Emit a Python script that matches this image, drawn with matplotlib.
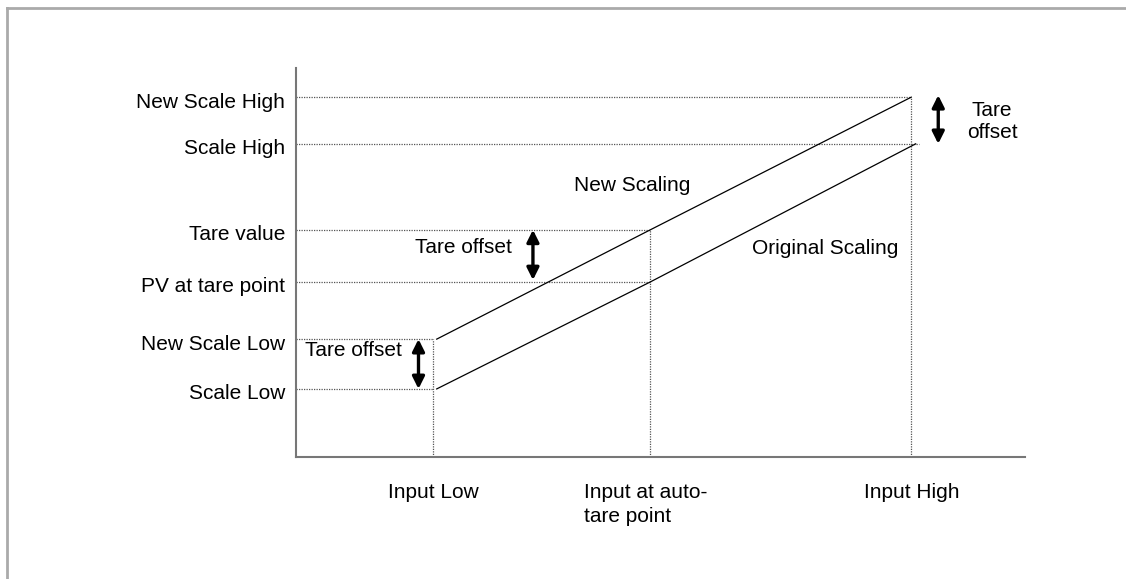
import matplotlib
matplotlib.use('Agg')
import matplotlib.pyplot as plt
from matplotlib.lines import Line2D

plt.rcParams['font.family'] = ['Liberation Sans', 'DejaVu Sans']

# values (axes run 0..10 on both sides)
x_names = ['Input Low', 'Input at auto-\ntare point', 'Input High']
x_pos = [1.88, 4.86, 8.44]

y_names = ['Scale Low', 'New Scale Low', 'PV at tare point', 'Tare value',
           'Scale High', 'New Scale High']
y_pos = [1.75, 3.03, 4.50, 5.84, 8.05, 9.25]

orig_x = [1.93, 4.86, 8.50]
orig_y = [1.75, 4.50, 8.05]
new_x = [1.93, 4.86, 8.44]
new_y = [3.03, 5.84, 9.25]

# where each horizontal guide ends on the x side
y_end = [1.88, 1.88, 4.86, 4.86, 8.55, 8.44]

fig = plt.figure(figsize=(11.26, 5.79), dpi=100)
ax = fig.add_axes([0.2629, 0.2107, 0.6474, 0.6719])
ax.set_xlim(0, 10)
ax.set_ylim(0, 10)

guide = dict(color='#555555', ls=(0, (1, 1)), lw=0.9)
for y, xe in zip(y_pos, y_end):
    ax.plot([0, xe], [y, y], **guide)
for x, yt in zip(x_pos, [3.03, 5.84, 9.25]):
    ax.plot([x, x], [0, yt], **guide)

ax.plot(orig_x, orig_y, color='black', lw=0.9)
ax.plot(new_x, new_y, color='black', lw=0.9)

# axis labels as text
for y, name in zip(y_pos, y_names):
    ax.annotate(name, xy=(0, y), xycoords=('axes fraction', 'data'),
                xytext=(-11, -5), textcoords='offset pixels',
                ha='right', va='center', fontsize=15)
for x, name, dx in zip(x_pos, x_names, [0, -5, 0]):
    ax.annotate(name, xy=(x, 0), xycoords=('data', 'axes fraction'),
                xytext=(dx, -26), textcoords='offset pixels',
                ha='center', va='top', multialignment='left', fontsize=15,
                linespacing=1.3)

# tare offset arrows
arr = dict(arrowstyle='<|-|>', lw=2.4, color='black', mutation_scale=18,
           shrinkA=0, shrinkB=0)
ax.annotate('', xy=(1.68, 3.03), xytext=(1.68, 1.75), arrowprops=arr)
ax.annotate('', xy=(3.25, 5.84), xytext=(3.25, 4.55), arrowprops=arr)
ax.annotate('', xy=(8.81, 9.3), xytext=(8.81, 8.05), arrowprops=arr)

ax.text(0.12, 2.73, 'Tare offset', fontsize=15, va='center')
ax.text(1.63, 5.38, 'Tare offset', fontsize=15, va='center')
ax.text(9.55, 8.62, 'Tare\noffset', fontsize=15, va='center', ha='center',
        linespacing=1.2)
ax.text(3.82, 6.97, 'New Scaling', fontsize=15, va='center')
ax.text(6.25, 5.35, 'Original Scaling', fontsize=15, va='center')

for s in ['top', 'right']:
    ax.spines[s].set_visible(False)
for s in ['left', 'bottom']:
    ax.spines[s].set_color('#777777')
    ax.spines[s].set_linewidth(1.5)
ax.set_xticks([])
ax.set_yticks([])

# grey page frame
fc = '#aaaaaa'
fig.add_artist(Line2D([7 / 1126, 1], [1 - 8 / 579, 1 - 8 / 579], color=fc, lw=2))
fig.add_artist(Line2D([7 / 1126, 7 / 1126], [0, 1 - 8 / 579], color=fc, lw=2))

fig.savefig('out.png', dpi=100)
